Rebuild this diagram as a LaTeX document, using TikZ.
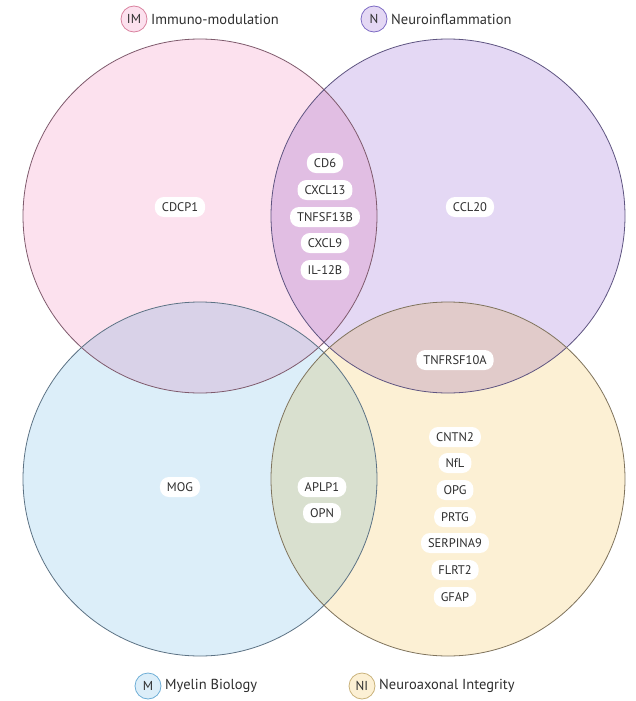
\documentclass[tikz,border=0pt]{standalone}
\usepackage{fontspec}
\setmainfont{PT Sans}
\definecolor{pinkF}{HTML}{FCE1EE}
\definecolor{purpF}{HTML}{E4D8F4}
\definecolor{blueF}{HTML}{DCEEF9}
\definecolor{yellF}{HTML}{FCF0D4}
\definecolor{pinkD}{HTML}{7E5A6C}
\definecolor{purpD}{HTML}{5E5480}
\definecolor{blueD}{HTML}{5C7284}
\definecolor{yellD}{HTML}{7F735C}
\definecolor{pinkL}{HTML}{D9829F}
\definecolor{purpL}{HTML}{7D6BC4}
\definecolor{blueL}{HTML}{6EAED6}
\definecolor{yellL}{HTML}{C9B27A}
\definecolor{txt}{HTML}{2E2E2E}
\begin{document}
\begin{tikzpicture}[x=1pt,y=-1pt,
  tag/.style={fill=white, rounded corners=9pt, inner xsep=7pt, inner ysep=3pt,
    minimum height=20pt, text=txt, font=\fontsize{12.5}{14}\selectfont},
  legc/.style={circle, line width=0.8pt, minimum size=26pt, inner sep=1pt,
    text=txt, font=\fontsize{13}{15}\selectfont},
  legt/.style={anchor=west, text=txt, inner sep=0pt, font=\fontsize{14.5}{16}\selectfont},
  ring/.style={line width=0.8pt}]
\useasboundingbox (0,0) rectangle (635,701);
\begin{scope}[blend group=multiply]
  \fill[pinkF] (200,216) circle (177pt);
  \fill[purpF] (448,216) circle (177pt);
  \fill[blueF] (200,479) circle (177pt);
  \fill[yellF] (448,479) circle (177pt);
\end{scope}
\draw[ring, pinkD] (200,216) circle (177pt);
\draw[ring, purpD] (448,216) circle (177pt);
\draw[ring, blueD] (200,479) circle (177pt);
\draw[ring, yellD] (448,479) circle (177pt);

% legend
\node[legc, draw=pinkL, fill=pinkF] (lim) at (134,19) {IM};
\node[legt] (tim) at (151,19) {Immuno-modulation};
\node[legc, draw=purpL, fill=purpF] (ln) at (374,19) {N};
\node[legt] (tn) at (391,19) {Neuroinflammation};
\node[legc, draw=blueL, fill=blueF] (lm) at (148,686) {M};
\node[legt] (tm) at (165,686) {Myelin Biology};
\node[legc, draw=yellL, fill=yellF] (lni) at (362,686) {NI};
\node[legt] (tni) at (379,686) {Neuroaxonal Integrity};

% labels
\node[tag] (cdcp1) at (180,207) {CDCP1};
\node[tag] (ccl20) at (470,207) {CCL20};
\node[tag] (cd6) at (325,163) {CD6};
\node[tag] (cxcl13) at (325,190) {CXCL13};
\node[tag] (tnfsf) at (325,217) {TNFSF13B};
\node[tag] (cxcl9) at (325,243) {CXCL9};
\node[tag] (il12b) at (325,270) {IL-12B};
\node[tag] (tnfr) at (455,360) {TNFRSF10A};
\node[tag] (mog) at (180,487) {MOG};
\node[tag] (aplp1) at (322,487) {APLP1};
\node[tag] (opn) at (322,513) {OPN};
\node[tag] (cntn2) at (455,437) {CNTN2};
\node[tag] (nfl) at (455,463) {NfL};
\node[tag] (opg) at (455,490) {OPG};
\node[tag] (prtg) at (455,517) {PRTG};
\node[tag] (serp) at (455,543) {SERPINA9};
\node[tag] (flrt2) at (455,570) {FLRT2};
\node[tag] (gfap) at (455,597) {GFAP};
\end{tikzpicture}
\end{document}
